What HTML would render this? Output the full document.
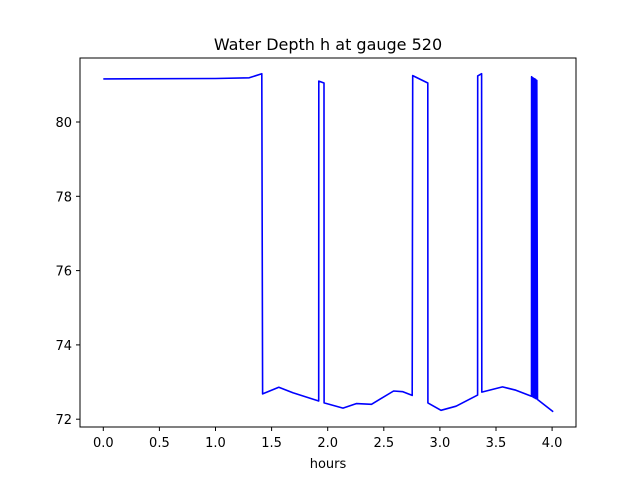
<!DOCTYPE html>
<html><head><meta charset="utf-8"><style>
body{margin:0;background:#fff}
svg{display:block;font-family:"DejaVu Sans","Liberation Sans",sans-serif}
</style></head><body>
<svg id="chart" width="640" height="480" viewBox="0 0 640 480">
<rect x="0" y="0" width="640" height="480" fill="#fff"/>
<text x="328" y="50" font-size="16" text-anchor="middle">Water Depth h at gauge 520</text>
<g id="plot"></g>
<rect x="80" y="58" width="496" height="369" fill="none" stroke="#000" stroke-width="1"/>
<g id="axes"></g>
<text x="328" y="468" font-size="13" text-anchor="middle">hours</text>
</svg>
<script>
const hours = [0,1.0,1.3,1.413,1.42,1.564,1.69,1.92,1.921,1.967,1.968,2.136,2.255,2.39,2.587,2.67,2.753,2.758,2.892,2.893,3.01,3.144,3.336,3.337,3.372,3.373,3.558,3.677,3.816,
3.817,3.822,3.823,3.828,3.829,3.834,3.835,3.840,3.841,3.846,3.847,3.852,3.853,3.858,3.859,3.864,3.87,4.01];
const depth = [81.16,81.17,81.19,81.3,72.68,72.86,72.71,72.49,81.1,81.05,72.44,72.3,72.42,72.4,72.76,72.74,72.64,81.25,81.05,72.44,72.24,72.35,72.65,81.24,81.3,72.73,72.87,72.78,72.62,
81.22,81.2,72.61,81.19,72.6,81.18,72.59,81.17,72.58,81.16,72.57,81.15,72.56,81.13,72.55,81.12,72.53,72.2];
const xTicks = [0,0.5,1.0,1.5,2.0,2.5,3.0,3.5,4.0];
const xTickLabels = ["0.0","0.5","1.0","1.5","2.0","2.5","3.0","3.5","4.0"];
const yTicks = [72,74,76,78,80];
const yTickLabels = ["72","74","76","78","80"];

const NS="http://www.w3.org/2000/svg";
const xs = t => 103.3 + t*112.2;
const ys = h => 419.2 - (h-72)*37.15;
const plot=document.getElementById('plot'), axes=document.getElementById('axes');
const line=document.createElementNS(NS,'polyline');


line.setAttribute('points',hours.map((t,i)=>xs(t).toFixed(1)+','+ys(depth[i]).toFixed(1)).join(' '));
line.setAttribute('fill','none');line.setAttribute('stroke','#0000ff');line.setAttribute('stroke-width','1.6');line.setAttribute('stroke-linejoin','round');
plot.appendChild(line);
xTicks.forEach((t,i)=>{
  const x=xs(t);
  const tk=document.createElementNS(NS,'line');
  
  
  tk.setAttribute('x1',x);tk.setAttribute('x2',x);tk.setAttribute('y1',427);tk.setAttribute('y2',431);tk.setAttribute('stroke','#000');
  axes.appendChild(tk);
  const tx=document.createElementNS(NS,'text');
  
  
  tx.setAttribute('x',x);tx.setAttribute('y',447);tx.setAttribute('font-size','13');tx.setAttribute('text-anchor','middle');
  tx.textContent=xTickLabels[i];axes.appendChild(tx);
});
yTicks.forEach((h,i)=>{
  const y=ys(h);
  const tk=document.createElementNS(NS,'line');
  
  
  tk.setAttribute('x1',76);tk.setAttribute('x2',80);tk.setAttribute('y1',y);tk.setAttribute('y2',y);tk.setAttribute('stroke','#000');
  axes.appendChild(tk);
  const tx=document.createElementNS(NS,'text');
  
  
  tx.setAttribute('x',72);tx.setAttribute('y',y+5);tx.setAttribute('font-size','13');tx.setAttribute('text-anchor','end');
  tx.textContent=yTickLabels[i];axes.appendChild(tx);
});
</script>
</body></html>
